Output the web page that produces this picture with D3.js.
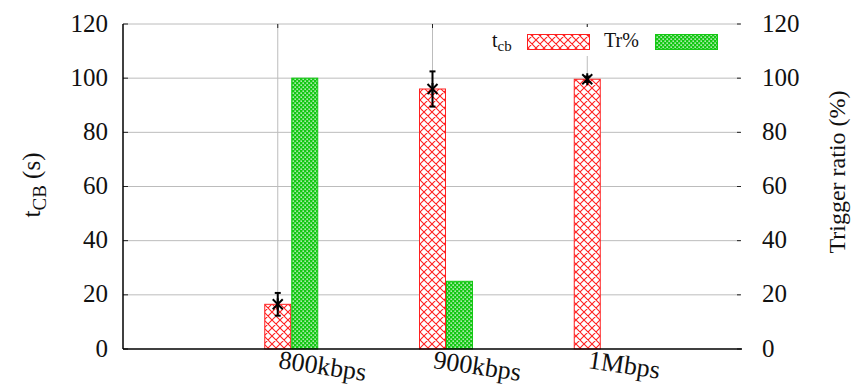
<!DOCTYPE html>
<html>
<head>
<meta charset="utf-8">
<script src="https://cdn.jsdelivr.net/npm/d3@7/dist/d3.min.js"></script>
<style>
  html, body { margin: 0; padding: 0; background: #fff; }
  svg { display: block; }
  svg text { font-family: "Liberation Serif", "DejaVu Serif", serif; }
</style>
</head>
<body>
<svg id="chart" width="856" height="386"></svg>
<script>
// Categories (bandwidth limits) and measured series
const categories = ["800kbps", "900kbps", "1Mbps"];
const tcbMean = [16.5, 96, 99.6];      // t_cb mean (s)
const tcbErr = [4.2, 6.5, 1.0];        // t_cb error (s)
const triggerRatio = [100, 25, 0];     // Tr% (percent)
const yTicks = [0, 20, 40, 60, 80, 100, 120];

const FONT = "'Liberation Serif', 'DejaVu Serif', serif";
const svg = d3.select("#chart");
const plotL = 123, plotR = 742, plotT = 24, plotB = 349;

const x = d3.scaleLinear().domain([0, categories.length + 1]).range([plotL, plotR]);
const y = d3.scaleLinear().domain([0, 120]).range([plotB, plotT]);
const y2 = d3.scaleLinear().domain([0, 120]).range([plotB, plotT]);
const barW = 27;

// Fill patterns
const defs = svg.append("defs");
const red = "#ff2020", green = "#14c814";
const hatch = defs.append("pattern").attr("id", "hatchRed")
  .attr("patternUnits", "userSpaceOnUse").attr("width", 8).attr("height", 8);
hatch.append("rect").attr("width", 8).attr("height", 8).attr("fill", "#fff");
hatch.append("path").attr("d", "M0,0 L8,8 M8,0 L0,8 M-1,7 L1,9 M7,-1 L9,1 M-1,1 L1,-1 M7,9 L9,7")
  .attr("stroke", red).attr("stroke-width", 1.1).attr("fill", "none");
const dots = defs.append("pattern").attr("id", "dotGreen")
  .attr("patternUnits", "userSpaceOnUse").attr("width", 4).attr("height", 4);
dots.append("rect").attr("width", 4).attr("height", 4).attr("fill", green);
dots.append("rect").attr("x", 0.5).attr("y", 0.5).attr("width", 1.3).attr("height", 1.3).attr("fill", "#fff");
dots.append("rect").attr("x", 2.5).attr("y", 2.5).attr("width", 1.3).attr("height", 1.3).attr("fill", "#fff");

// Horizontal grid lines
const grid = svg.append("g");
grid.selectAll("line.h").data(yTicks.filter(d => d > 0)).join("line")
  .attr("x1", plotL).attr("x2", plotR - 2)
  .attr("y1", d => y(d)).attr("y2", d => y(d))
  .attr("stroke", "#bcbcbc").attr("stroke-width", 1);
// Vertical grid lines at category positions
grid.selectAll("line.v").data(categories).join("line")
  .attr("x1", (d, i) => x(i + 1)).attr("x2", (d, i) => x(i + 1))
  .attr("y1", plotT).attr("y2", plotB)
  .attr("stroke", "#bcbcbc").attr("stroke-width", 1);

// Tick marks
const ticks = svg.append("g").attr("stroke", "#222").attr("stroke-width", 1);
yTicks.forEach(d => {
  ticks.append("line").attr("x1", plotL).attr("x2", plotL + 5).attr("y1", y(d)).attr("y2", y(d));
  ticks.append("line").attr("x1", plotR - 5).attr("x2", plotR - 1).attr("y1", y2(d)).attr("y2", y2(d));
});
categories.forEach((c, i) => {
  ticks.append("line").attr("x1", x(i + 1)).attr("x2", x(i + 1)).attr("y1", plotT).attr("y2", plotT + 4);
});

// Bars
const bars = svg.append("g");
bars.selectAll("rect.tcb").data(tcbMean).join("rect")
  .attr("x", (d, i) => x(i + 1) - barW / 2 + 0.5)
  .attr("y", d => y(d))
  .attr("width", barW - 1).attr("height", d => plotB - y(d))
  .attr("fill", "url(#hatchRed)").attr("stroke", red).attr("stroke-width", 1);
bars.selectAll("rect.tr").data(triggerRatio).join("rect")
  .filter(d => d > 0)
  .attr("x", (d, i) => x(i + 1) + barW / 2 + 0.5)
  .attr("y", d => y2(d))
  .attr("width", barW - 1).attr("height", d => plotB - y2(d))
  .attr("fill", "url(#dotGreen)").attr("stroke", green).attr("stroke-width", 1);

// Error bars with asterisk markers
const err = svg.append("g").attr("stroke", "#000").attr("stroke-width", 2);
tcbMean.forEach((m, i) => {
  const cx = x(i + 1);
  const yt = y(m + tcbErr[i]), yb = y(m - tcbErr[i]), ym = y(m);
  err.append("line").attr("x1", cx).attr("x2", cx).attr("y1", yt).attr("y2", yb);
  err.append("line").attr("x1", cx - 3).attr("x2", cx + 3).attr("y1", yt).attr("y2", yt);
  err.append("line").attr("x1", cx - 3).attr("x2", cx + 3).attr("y1", yb).attr("y2", yb);
  const s = 5;
  err.append("line").attr("x1", cx - s).attr("x2", cx + s).attr("y1", ym - s).attr("y2", ym + s);
  err.append("line").attr("x1", cx - s).attr("x2", cx + s).attr("y1", ym + s).attr("y2", ym - s);
  err.append("line").attr("x1", cx).attr("x2", cx).attr("y1", ym - s - 1).attr("y2", ym + s + 1);
});

// Axis lines (left and bottom)
svg.append("line").attr("x1", plotL).attr("x2", plotL).attr("y1", plotT).attr("y2", plotB)
  .attr("stroke", "#000").attr("stroke-width", 1.5);
svg.append("line").attr("x1", plotL).attr("x2", plotR).attr("y1", plotB).attr("y2", plotB)
  .attr("stroke", "#000").attr("stroke-width", 1.5);

// Left tick labels
svg.append("g").selectAll("text").data(yTicks).join("text")
  .attr("x", 108).attr("y", d => y(d) - 1)
  .attr("text-anchor", "end").attr("dominant-baseline", "central")
  .attr("font-family", FONT).attr("font-size", 25).attr("fill", "#111").text(d => d);
// Right tick labels
svg.append("g").selectAll("text").data(yTicks).join("text")
  .attr("x", 762).attr("y", d => y2(d) - 1)
  .attr("text-anchor", "start").attr("dominant-baseline", "central")
  .attr("font-family", FONT).attr("font-size", 25).attr("fill", "#111").text(d => d);

// Category labels, slanted
svg.append("g").selectAll("text").data(categories).join("text")
  .attr("transform", (d, i) => `translate(${x(i + 1)},${plotB + 19}) rotate(8.5)`)
  .attr("font-family", FONT).attr("font-size", 26).attr("fill", "#111").text(d => d);

// Axis titles
const yl = svg.append("text")
  .attr("transform", "translate(40,185) rotate(-90)")
  .attr("text-anchor", "middle").attr("font-family", FONT).attr("font-size", 25).attr("fill", "#111");
yl.append("tspan").text("t");
yl.append("tspan").attr("font-size", 19).attr("dy", 6).text("CB");
yl.append("tspan").attr("dy", -6).text(" (s)");

svg.append("text")
  .attr("transform", "translate(845,172) rotate(-90)")
  .attr("text-anchor", "middle").attr("font-family", FONT).attr("font-size", 24).attr("fill", "#111")
  .text("Trigger ratio (%)");

// Legend
const lg = svg.append("g");
lg.append("rect").attr("x", 478).attr("y", 27).attr("width", 256).attr("height", 29).attr("fill", "#fff");
const lt = lg.append("text").attr("x", 492).attr("y", 47).attr("font-family", FONT).attr("font-size", 20).attr("fill", "#111");
lt.append("tspan").text("t");
lt.append("tspan").attr("font-size", 15).attr("dy", 4).text("cb");
lg.append("rect").attr("x", 527.5).attr("y", 34.5).attr("width", 62).attr("height", 15)
  .attr("fill", "url(#hatchRed)").attr("stroke", red);
lg.append("text").attr("x", 604).attr("y", 47).attr("font-family", FONT).attr("font-size", 20).attr("fill", "#111").text("Tr%");
lg.append("rect").attr("x", 655.5).attr("y", 34.5).attr("width", 62).attr("height", 15)
  .attr("fill", "url(#dotGreen)").attr("stroke", green);
</script>
</body>
</html>
